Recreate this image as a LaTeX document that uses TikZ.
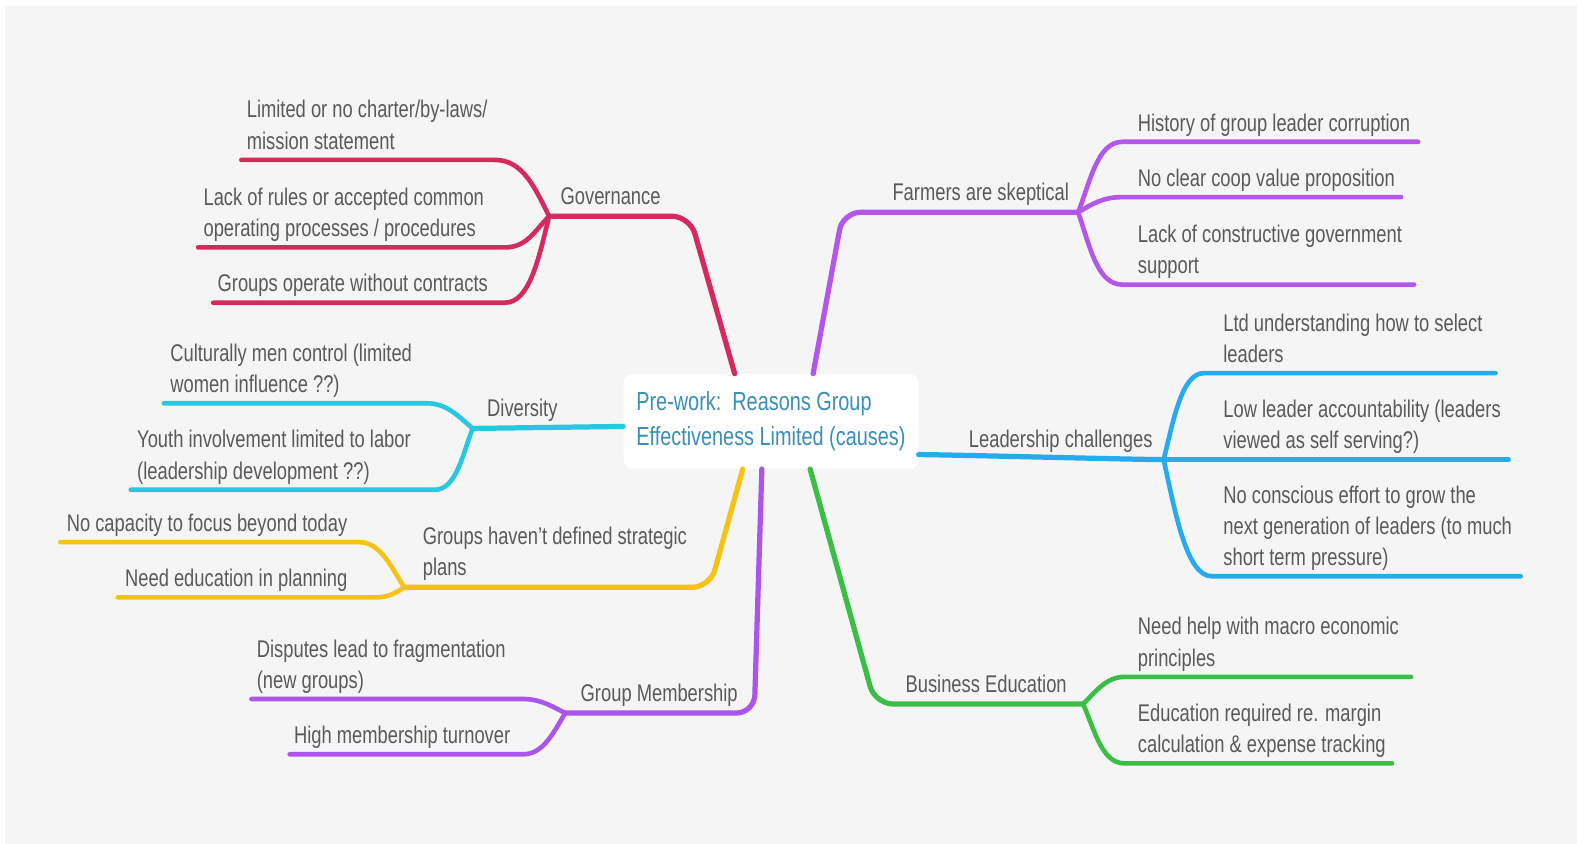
\documentclass[tikz,border=0pt]{standalone}
\usepackage{fontspec}
\setmainfont{Liberation Sans}[FakeStretch=0.76]
\usetikzlibrary{calc}

\definecolor{bggray}{HTML}{F5F5F5}
\definecolor{txtgray}{HTML}{5A5A5A}
\definecolor{roottxt}{HTML}{3A8FB7}
\definecolor{govred}{HTML}{D6295E}
\definecolor{farmpurple}{HTML}{B455EB}
\definecolor{divcyan}{HTML}{26C9E0}
\definecolor{leadblue}{HTML}{28AAEE}
\definecolor{planyellow}{HTML}{F6C214}
\definecolor{membpurple}{HTML}{AC55EE}
\definecolor{busgreen}{HTML}{3ABE46}

\begin{document}
\begin{tikzpicture}[
        x=0.5pt, y=-0.5pt,
        txt/.style={anchor=south west, inner sep=0pt, align=left, text=txtgray,
            font=\fontsize{12}{15.5}\selectfont},
        root/.style={rectangle, fill=white, rounded corners=4pt, minimum width=146.5pt,
            inner xsep=6pt, inner ysep=5pt, minimum height=47pt, align=left,
            text=roottxt, font=\fontsize{13}{17.5}\selectfont},
        trunk/.style={line width=2.6pt, line cap=round, rounded corners=9pt},
        twig/.style={line width=2.3pt, line cap=round}
    ]
        \useasboundingbox (0,0) rectangle (1568,839);
        \fill[bggray] (5,6) rectangle (1568,839);

        % Centre
        \node[root] (root) at (766.5,419) {Pre-work:\ \ Reasons Group\\Effectiveness Limited (causes)};

        % Hubs
        \coordinate (gov) at (546,215);
        \coordinate (farm) at (1072,211);
        \coordinate (div) at (470,426);
        \coordinate (lead) at (1157,457);
        \coordinate (plan) at (402,584);
        \coordinate (memb) at (562,709);
        \coordinate (bus) at (1077,700);

        % Main branches
        \draw[trunk, govred] ($(root.north)+(-36,0)$) -- (686,215) -- (gov);
        \draw[trunk, farmpurple] ($(root.north)+(42,0)$) -- (838,211) -- (farm);
        \draw[trunk, divcyan] ($(root.west)+(0,5)$) -- (div);
        \draw[trunk, leadblue] ($(root.east)+(0,33)$) .. controls +(25,0) and +(-25,0) .. (lead);
        \draw[trunk, planyellow] ($(root.south)+(-28,0)$) -- (706,584) -- (plan);
        \draw[trunk, membpurple] ($(root.south)+(-9,0)$) -- (750,709) -- (memb);
        \draw[trunk, busgreen] ($(root.south)+(39,0)$) -- (870,700) -- (bus);

        % Branch labels
        \node[txt] (govl) at (557,213) {Governance\strut};
        \node[txt] (farml) at (887,209) {Farmers are skeptical\strut};
        \node[txt] (divl) at (484,424) {Diversity\strut};
        \node[txt] (leadl) at (963,455) {Leadership challenges\strut};
        \node[txt] (planl) at (420,582) {Groups haven’t defined strategic\\plans\strut};
        \node[txt] (membl) at (577,707) {Group Membership\strut};
        \node[txt] (busl) at (900,698) {Business Education\strut};

        % Governance
        \coordinate (gov1a) at (240,159); \coordinate (gov1b) at (492,159);
        \coordinate (gov2a) at (197,246); \coordinate (gov2b) at (502,246);
        \coordinate (gov3a) at (212,301); \coordinate (gov3b) at (502,301);
        \node[txt] (gov1) at (245,158) {Limited or no charter/by-laws/\\mission statement\strut};
        \node[txt] (gov2) at (202,245) {Lack of rules or accepted common\\operating processes / procedures\strut};
        \node[txt] (gov3) at (216,300) {Groups operate without contracts\strut};
        \draw[twig, govred] (gov) .. controls +(-14,-28) and +(28,0) .. (gov1b) -- (gov1a);
        \draw[twig, govred] (gov) .. controls +(-14,14) and +(22,0) .. (gov2b) -- (gov2a);
        \draw[twig, govred] (gov) .. controls +(-10,40) and +(25,0) .. (gov3b) -- (gov3a);

        % Farmers
        \coordinate (farm1a) at (1116,141); \coordinate (farm1b) at (1410,141);
        \coordinate (farm2a) at (1116,196); \coordinate (farm2b) at (1393,196);
        \coordinate (farm3a) at (1116,283); \coordinate (farm3b) at (1406,283);
        \node[txt] (farm1) at (1131,140) {History of group leader corruption\strut};
        \node[txt] (farm2) at (1131,195) {No clear coop value proposition\strut};
        \node[txt] (farm3) at (1131,282) {Lack of constructive government\\support\strut};
        \draw[twig, farmpurple] (farm) .. controls +(12,-30) and +(-25,0) .. (farm1a) -- (farm1b);
        \draw[twig, farmpurple] (farm) .. controls +(14,-8) and +(-20,0) .. (farm2a) -- (farm2b);
        \draw[twig, farmpurple] (farm) .. controls +(12,35) and +(-25,0) .. (farm3a) -- (farm3b);

        % Diversity
        \coordinate (div1a) at (163,401); \coordinate (div1b) at (425,401);
        \coordinate (div2a) at (130,487); \coordinate (div2b) at (432,487);
        \node[txt] (div1) at (169,400) {Culturally men control (limited\\women influence ??)\strut};
        \node[txt] (div2) at (136,486) {Youth involvement limited to labor\\(leadership development ??)\strut};
        \draw[twig, divcyan] (div) .. controls +(-12,-10) and +(20,0) .. (div1b) -- (div1a);
        \draw[twig, divcyan] (div) .. controls +(-10,25) and +(22,0) .. (div2b) -- (div2a);

        % Leadership
        \coordinate (lead1a) at (1197,371); \coordinate (lead1b) at (1487,371);
        \coordinate (lead2b) at (1500,457);
        \coordinate (lead3a) at (1205,573); \coordinate (lead3b) at (1512,573);
        \node[txt] (lead1) at (1216,370) {Ltd understanding how to select\\leaders\strut};
        \node[txt] (lead2) at (1216,456) {Low leader accountability (leaders\\viewed as self serving?)\strut};
        \node[txt] (lead3) at (1216,572) {No conscious effort to grow the\\next generation of leaders (to much\\short term pressure)\strut};
        \draw[twig, leadblue] (lead) .. controls +(10,-40) and +(-22,0) .. (lead1a) -- (lead1b);
        \draw[twig, leadblue] (lead) -- (lead2b);
        \draw[twig, leadblue] (lead) .. controls +(12,55) and +(-25,0) .. (lead3a) -- (lead3b);

        % Strategic plans
        \coordinate (plan1a) at (60,539); \coordinate (plan1b) at (357,539);
        \coordinate (plan2a) at (117,594); \coordinate (plan2b) at (372,594);
        \node[txt] (plan1) at (66,538) {No capacity to focus beyond today\strut};
        \node[txt] (plan2) at (124,593) {Need education in planning\strut};
        \draw[twig, planyellow] (plan) .. controls +(-12,-18) and +(22,0) .. (plan1b) -- (plan1a);
        \draw[twig, planyellow] (plan) .. controls +(-10,6) and +(15,0) .. (plan2b) -- (plan2a);

        % Membership
        \coordinate (memb1a) at (250,695); \coordinate (memb1b) at (520,695);
        \coordinate (memb2a) at (288,750); \coordinate (memb2b) at (520,750);
        \node[txt] (memb1) at (255,694) {Disputes lead to fragmentation\\(new groups)\strut};
        \node[txt] (memb2) at (292,749) {High membership turnover\strut};
        \draw[twig, membpurple] (memb) .. controls +(-12,-6) and +(18,0) .. (memb1b) -- (memb1a);
        \draw[twig, membpurple] (memb) .. controls +(-12,20) and +(20,0) .. (memb2b) -- (memb2a);

        % Business education
        \coordinate (bus1a) at (1118,673); \coordinate (bus1b) at (1403,673);
        \coordinate (bus2a) at (1118,759); \coordinate (bus2b) at (1384,759);
        \node[txt] (bus1) at (1131,672) {Need help with macro economic\\principles\strut};
        \node[txt] (bus2) at (1131,758) {Education required re. margin\\calculation \& expense tracking\strut};
        \draw[twig, busgreen] (bus) .. controls +(12,-12) and +(-18,0) .. (bus1a) -- (bus1b);
        \draw[twig, busgreen] (bus) .. controls +(12,28) and +(-22,0) .. (bus2a) -- (bus2b);

    \end{tikzpicture}
\end{document}
